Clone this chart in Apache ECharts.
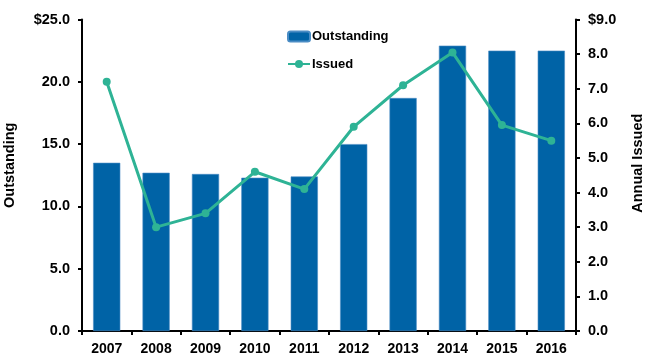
<!DOCTYPE html>
<html>
<head>
<meta charset="utf-8">
<script src="https://cdn.jsdelivr.net/npm/echarts@6/dist/echarts.min.js"></script>
<style>
html,body{margin:0;padding:0;background:#fff;}
#chart{width:650px;height:359px;}
</style>
</head>
<body>
<div id="chart"></div>
<script>
var categories = ['2007','2008','2009','2010','2011','2012','2013','2014','2015','2016'];
var outstanding = [13.5, 12.7, 12.6, 12.3, 12.4, 15.0, 18.7, 22.9, 22.5, 22.5];
var issued = [7.2, 3.0, 3.4, 4.6, 4.1, 5.9, 7.1, 8.05, 5.95, 5.5];
var leftTickLabels = ['0.0','5.0','10.0','15.0','20.0','$25.0'];
var rightTickLabels = ['0.0','1.0','2.0','3.0','4.0','5.0','6.0','7.0','8.0','$9.0'];

var FONT = 'Liberation Sans, Arial, sans-serif';
var chart = echarts.init(document.getElementById('chart'), null, {renderer:'canvas'});
var axisLineStyle = {show:true, lineStyle:{color:'#000', width:2}};
chart.setOption({
  animation:false,
  backgroundColor:'#fff',
  grid:{left:82, right:74, top:19.5, bottom:28, containLabel:false, outerBoundsMode:'none'},
  legend:{
    orient:'vertical', left:287, top:30, padding:0, itemWidth:22, itemHeight:10, itemGap:14.5,
    textStyle:{fontFamily:FONT, fontWeight:'bold', fontSize:13, color:'#000', padding:[0,0,0,-3]},
    data:[{name:'Outstanding', icon:'roundRect'}, {name:'Issued'}]
  },
  xAxis:{
    type:'category', data:categories,
    axisLine:axisLineStyle,
    axisTick:{show:true, length:4, lineStyle:{color:'#000', width:2}},
    axisLabel:{fontFamily:FONT, fontWeight:'bold', fontSize:14, color:'#000', margin:11}
  },
  yAxis:[{
    type:'value', min:0, max:25, interval:5, position:'left',
    name:'Outstanding', nameLocation:'middle', nameGap:65, nameRotate:90,
    nameTextStyle:{fontFamily:FONT, fontWeight:'bold', fontSize:14.5, color:'#000', padding:[0,0,0,20]},
    axisLine:axisLineStyle,
    axisTick:{show:true, length:4, lineStyle:{color:'#000', width:2}},
    splitLine:{show:false},
    axisLabel:{fontFamily:FONT, fontWeight:'bold', fontSize:14.5, color:'#000', margin:12,
      formatter:function(v){return leftTickLabels[Math.round(v/5)];}}
  },{
    type:'value', min:0, max:9, interval:1, position:'right',
    name:'Annual Issued', nameLocation:'middle', nameGap:54, nameRotate:90,
    nameTextStyle:{fontFamily:FONT, fontWeight:'bold', fontSize:14.5, color:'#000', padding:[0,0,0,24]},
    axisLine:axisLineStyle,
    axisTick:{show:true, length:4, lineStyle:{color:'#000', width:2}},
    splitLine:{show:false},
    axisLabel:{fontFamily:FONT, fontWeight:'bold', fontSize:14.5, color:'#000', margin:12,
      formatter:function(v){return rightTickLabels[Math.round(v)];}}
  }],
  series:[{
    name:'Outstanding', type:'bar', data:outstanding, yAxisIndex:0,
    barWidth:'55%',
    itemStyle:{color:'#0063A6', borderColor:'#4a8cc4', borderWidth:0.6}
  },{
    name:'Issued', type:'line', data:issued, yAxisIndex:1,
    symbol:'circle', symbolSize:8,
    lineStyle:{color:'#2EB395', width:3},
    itemStyle:{color:'#2EB395'}
  }]
});
</script>
</body>
</html>
